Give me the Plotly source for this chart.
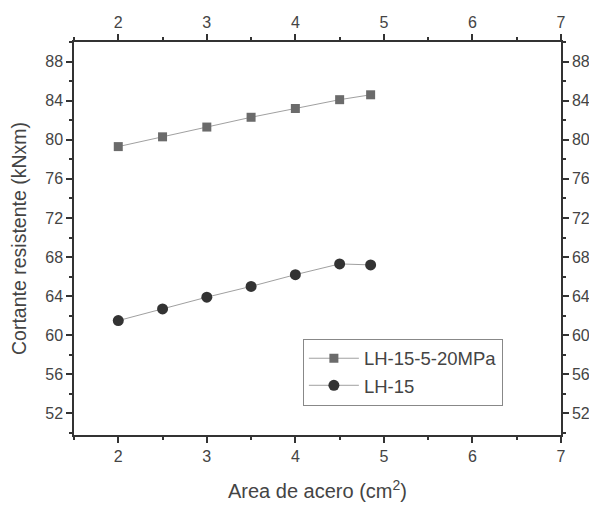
import plotly.graph_objects as go

area = [2, 2.5, 3, 3.5, 4, 4.5, 4.85]
lh15_5_20 = [79.3, 80.3, 81.3, 82.3, 83.2, 84.1, 84.6]
lh15 = [61.5, 62.7, 63.9, 65.0, 66.2, 67.3, 67.2]
xticks = [2, 3, 4, 5, 6, 7]
yticks = [52, 56, 60, 64, 68, 72, 76, 80, 84, 88]

FONT = "Liberation Sans, Arial, sans-serif"

fig = go.Figure()
fig.add_trace(go.Scatter(x=area, y=lh15_5_20, name="LH-15-5-20MPa", mode="lines+markers",
                         line=dict(color="#a0a0a0", width=1),
                         marker=dict(symbol="square", size=9, color="#6b6b6b")))
fig.add_trace(go.Scatter(x=area, y=lh15, name="LH-15", mode="lines+markers",
                         line=dict(color="#a0a0a0", width=1),
                         marker=dict(symbol="circle", size=11, color="#333333")))
# invisible trace for secondary axes
fig.add_trace(go.Scatter(x=[None], y=[None], xaxis="x2", yaxis="y2", showlegend=False))

axcommon = dict(showgrid=False, zeroline=False, showline=True, linecolor="#333",
                linewidth=1.5, ticks="outside", ticklen=6, tickwidth=1.5, tickcolor="#333",
                automargin=False,
                tickfont=dict(family=FONT, size=16, color="#444"))
minx = dict(dtick=0.5, ticks="outside", ticklen=3, tickwidth=1.5, tickcolor="#333")
miny = dict(dtick=2, ticks="outside", ticklen=3, tickwidth=1.5, tickcolor="#333")

fig.update_layout(
    width=589, height=502,
    margin=dict(l=66, r=36, t=34, b=75),
    plot_bgcolor="white", paper_bgcolor="white",
    font=dict(family=FONT, color="#444"),
    xaxis=dict(range=[1.5, 7], tickvals=xticks, minor=minx,
               title=dict(text="Area de acero (cm<sup>2</sup>)", font=dict(size=20, family=FONT, color="#444"), standoff=20),
               **axcommon),
    yaxis=dict(range=[49.8, 90], tickvals=yticks, minor=miny,
               title=dict(text="Cortante resistente (kNxm)", font=dict(size=19.5, family=FONT, color="#444"), standoff=15),
               **axcommon),
    xaxis2=dict(range=[1.5, 7], tickvals=xticks, overlaying="x", side="top", anchor="y",
                minor=minx, **axcommon),
    yaxis2=dict(range=[49.8, 90], tickvals=yticks, overlaying="y", side="right", anchor="x",
                minor=miny, **axcommon),
    legend=dict(x=0.47, y=0.245, xanchor="left", yanchor="top",
                bordercolor="#888", borderwidth=1, bgcolor="white",
                font=dict(family=FONT, size=18.5, color="#444"),
                itemwidth=50, tracegroupgap=0),
    showlegend=True,
)

fig.write_html("out.html")
